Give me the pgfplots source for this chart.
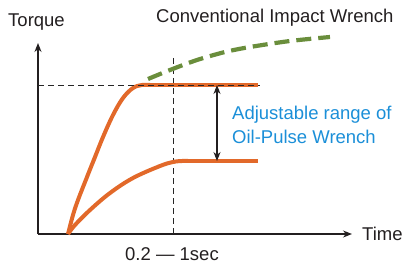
\documentclass[border=0pt]{standalone}
\usepackage{pgfplots}
\pgfplotsset{compat=1.18}
\usepackage{fontspec}
\setmainfont{Liberation Sans}
\usetikzlibrary{arrows.meta}
\definecolor{tor}{HTML}{E2692A}
\definecolor{grn}{HTML}{6A8E3C}
\definecolor{blu}{HTML}{1B8FD8}
\definecolor{txt}{HTML}{231F20}
\newcommand{\bigf}{\fontsize{18.5}{22}\selectfont}
\begin{document}
\begin{tikzpicture}
\begin{axis}[
  scale only axis, width=314pt, height=191pt,
  xmin=38, xmax=352, ymin=31, ymax=222,
  enlargelimits=false, clip=false,
  axis lines=left, ticks=none,
  axis line style={line width=1.3pt, draw=txt, -{Stealth[length=9pt,width=7pt]}},
]
% black dashed guide (vertical)
\addplot[black!85, line width=0.9pt, dash pattern=on 6pt off 4pt] coordinates {(173,207) (173,31)};
% upper orange
\addplot[tor, line width=4pt, smooth, tension=0.6] coordinates {
(68,31) (73,50) (78,65) (87,88) (95,108) (103,128) (113,150) (123,167) (133,177) (142,180) (150,180)};
\addplot[tor, line width=4pt] coordinates {(148,180) (258,180)};
% lower orange
\addplot[tor, line width=4pt, smooth, tension=0.6] coordinates {
(68,31) (75,40) (90,55) (110,72) (133,87) (160,99) (173,103) (182,104) (188,104)};
\addplot[tor, line width=4pt] coordinates {(186,104) (258,104)};
\addplot[black!85, line width=0.9pt, dash pattern=on 6pt off 4pt] coordinates {(38,180) (260,180)};
% green dashed
\addplot[grn, line width=4.2pt, smooth, dash pattern=on 15pt off 7pt] coordinates {
(148,186) (170,195) (197,205) (225,213) (250,218) (290,224) (330,228)};
% double arrow
\addplot[txt, line width=1.1pt, {Stealth[length=9pt,width=7pt]}-{Stealth[length=9pt,width=7pt]}] coordinates {(217,180) (217,104)};
% texts
\node[anchor=base west, inner sep=0pt, text=txt, font=\bigf] at (axis cs:8,238) {Torque};
\node[anchor=base west, inner sep=0pt, text=txt, font=\bigf] at (axis cs:156,242) {Conventional Impact Wrench};
\node[anchor=base west, inner sep=0pt, text=blu, font=\bigf] at (axis cs:232,145) {Adjustable range of};
\node[anchor=base west, inner sep=0pt, text=blu, font=\bigf] at (axis cs:232,122) {Oil-Pulse Wrench};
\node[anchor=base west, inner sep=0pt, text=txt, font=\bigf] at (axis cs:362,25) {Time};
\node[anchor=base west, inner sep=0pt, text=txt, font=\bigf] at (axis cs:125,5) {0.2 — 1sec};
\coordinate (bl) at (axis cs:0,0);
\coordinate (tr) at (axis cs:406,265);
\end{axis}
\pgfresetboundingbox
\useasboundingbox (bl) rectangle (tr);
\end{tikzpicture}
\end{document}
